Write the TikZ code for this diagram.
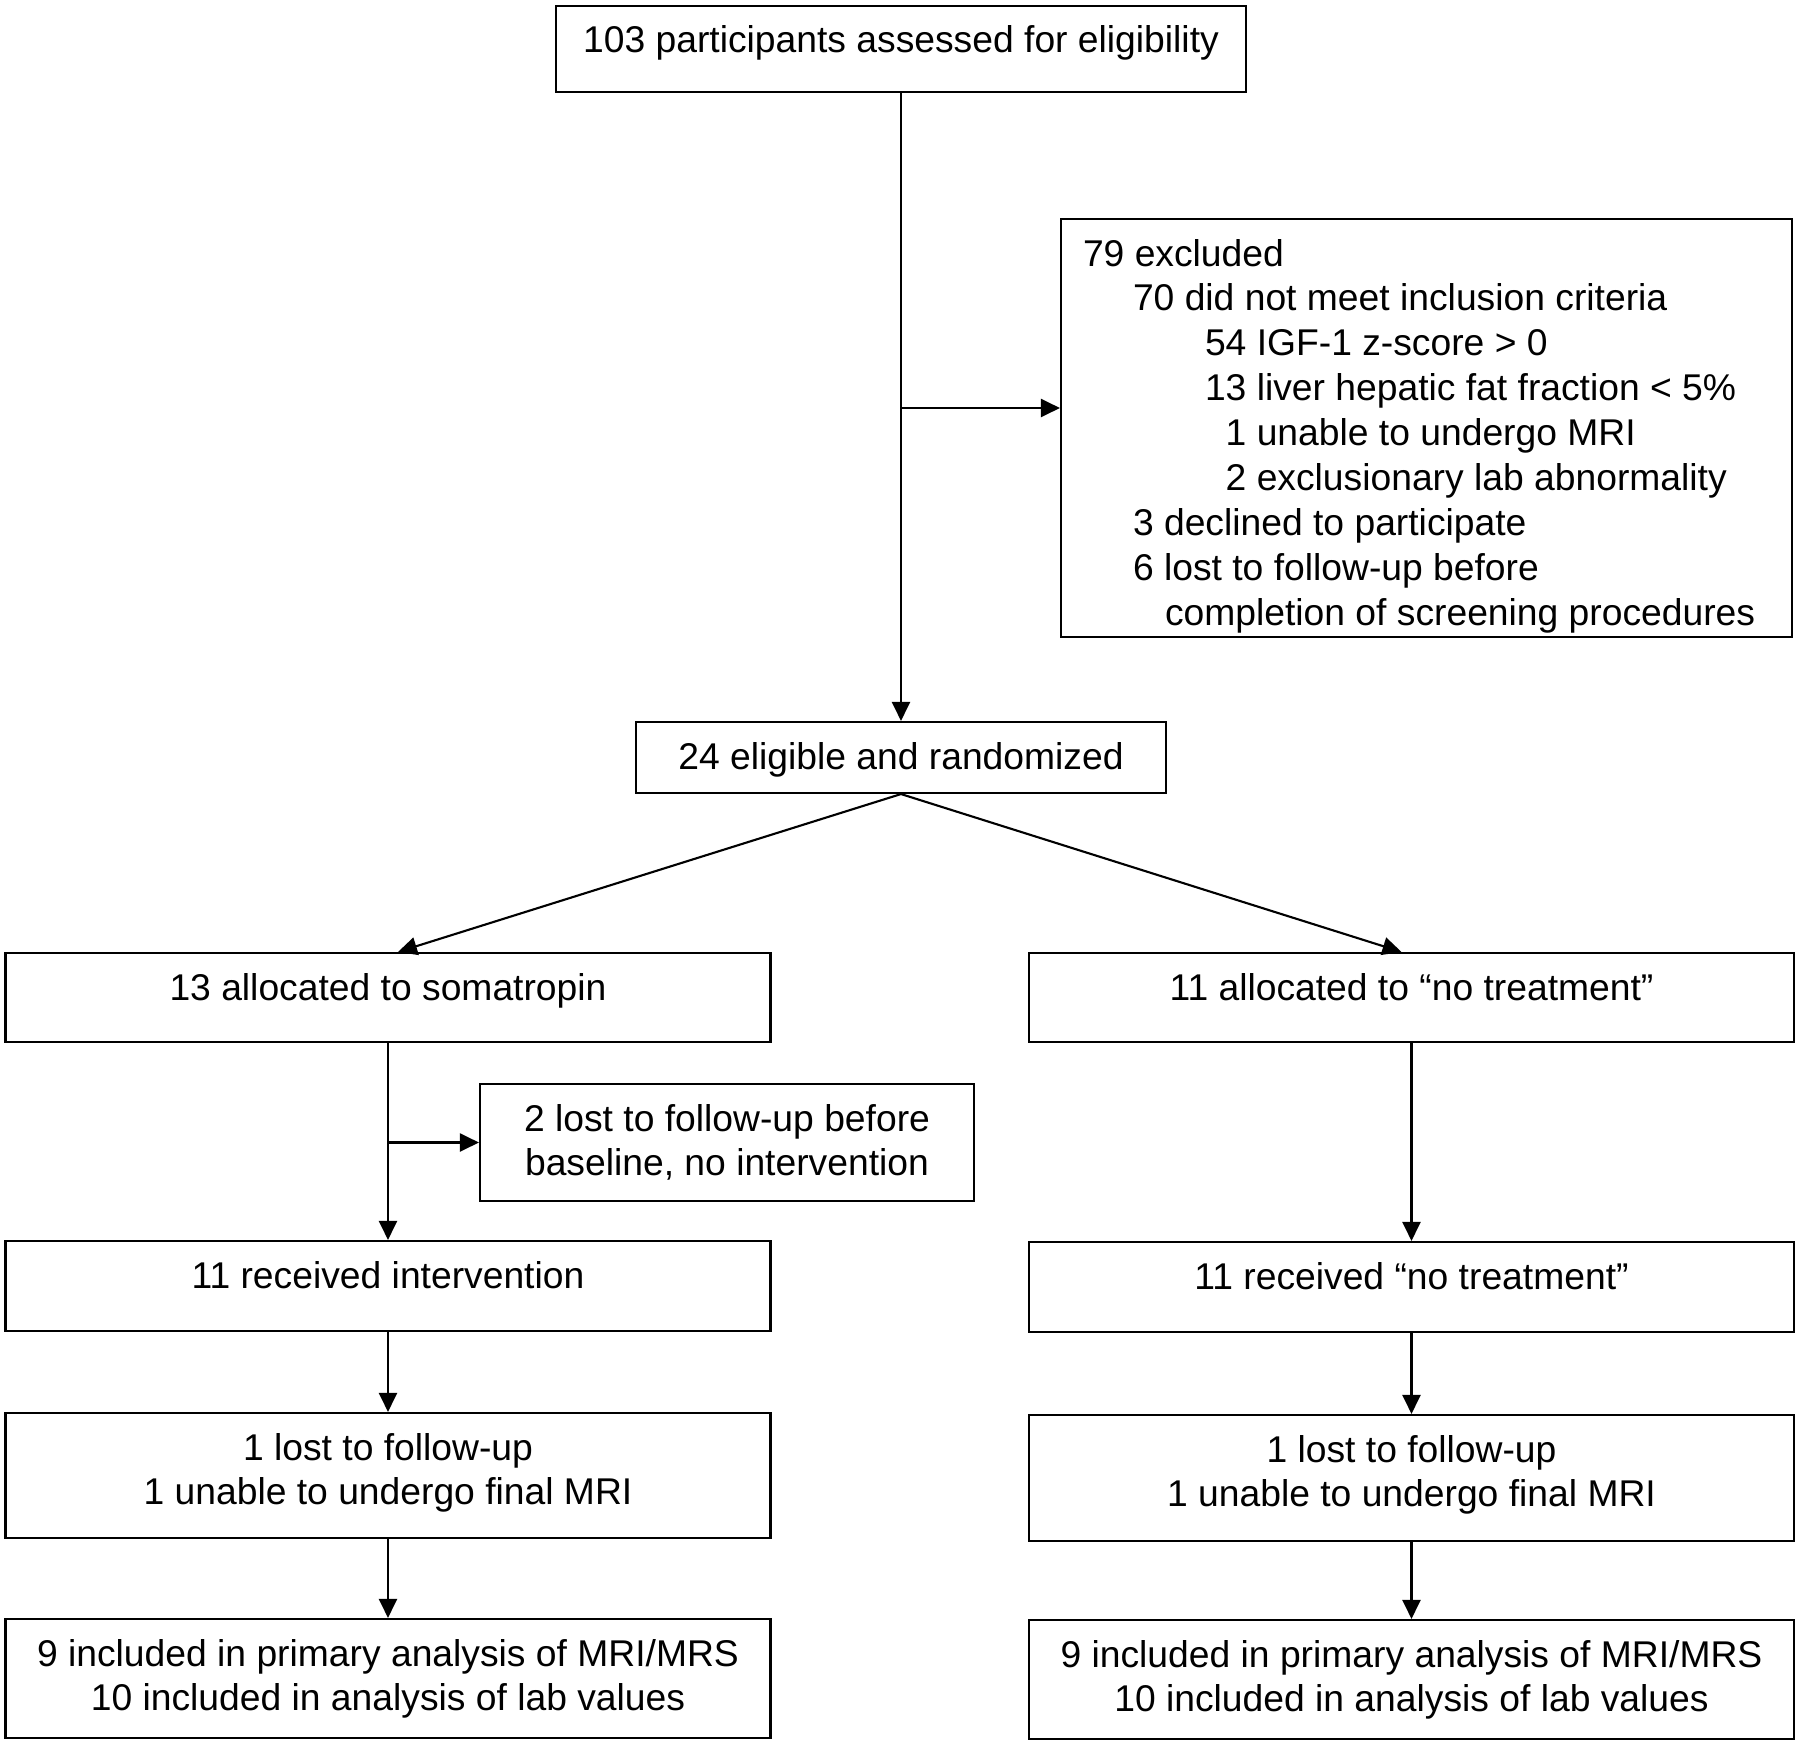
\documentclass[tikz,border=0pt]{standalone}
\usepackage{fontspec}
\setmainfont{Liberation Sans}
\usetikzlibrary{positioning,arrows.meta}

\begin{document}
\begin{tikzpicture}[line width=0.6pt]
        % flow of participants through the trial
        \tikzstyle{block} = [draw,rectangle,inner sep=0pt];
        \tikzstyle{txt} = [inner sep=0pt,align=center,font=\fontsize{10.6}{12.8}\selectfont];
        \tikzstyle{arr} = [-{Triangle[length=0.19cm,width=0.18cm]}];

        \useasboundingbox (0,0) rectangle (18,-17.46);

        \node[block,minimum width=6.9cm,minimum height=0.86cm] (assess) at (9.01,-0.49) {};
        \node[txt,below=0.2cm of assess.north] (assess_txt) {103 participants assessed for eligibility};

        \node[block,minimum width=7.31cm,minimum height=4.18cm] (excl) at (14.265,-4.28) {};
        \node[txt,align=left,below right=0.2cm and 0.22cm of excl.north west] (excl_txt) {79 excluded\\
            \hspace*{0.5cm}70 did not meet inclusion criteria\\
            \hspace*{1.22cm}54 IGF-1 z-score > 0\\
            \hspace*{1.22cm}13 liver hepatic fat fraction < 5\%\\
            \hspace*{1.22cm}\phantom{5}1 unable to undergo MRI\\
            \hspace*{1.22cm}\phantom{5}2 exclusionary lab abnormality\\
            \hspace*{0.5cm}3 declined to participate\\
            \hspace*{0.5cm}6 lost to follow-up before\\
            \hspace*{0.82cm}completion of screening procedures};

        \node[block,minimum width=5.3cm,minimum height=0.71cm] (rand) at (9.01,-7.575) {};
        \node[txt,below=0.2cm of rand.north] (rand_txt) {24 eligible and randomized};

        \node[block,minimum width=7.65cm,minimum height=0.89cm] (somat) at (3.88,-9.975) {};
        \node[txt,below=0.2cm of somat.north] (somat_txt) {13 allocated to somatropin};
        \node[block,minimum width=7.65cm,minimum height=0.89cm] (notreat) at (14.115,-9.975) {};
        \node[txt,below=0.2cm of notreat.north] (notreat_txt) {11 allocated to “no treatment”};

        \node[block,minimum width=4.94cm,minimum height=1.17cm] (lostbase) at (7.27,-11.425) {};
        \node[txt,below=0.2cm of lostbase.north] (lostbase_txt) {2 lost to follow-up before\\baseline, no intervention};

        \node[block,minimum width=7.65cm,minimum height=0.9cm] (recvint) at (3.88,-12.86) {};
        \node[txt,below=0.2cm of recvint.north] (recvint_txt) {11 received intervention};
        \node[block,minimum width=7.65cm,minimum height=0.9cm] (recvno) at (14.115,-12.87) {};
        \node[txt,below=0.2cm of recvno.north] (recvno_txt) {11 received “no treatment”};

        \node[block,minimum width=7.65cm,minimum height=1.25cm] (lost_left) at (3.88,-14.755) {};
        \node[txt,below=0.2cm of lost_left.north] (lost_left_txt) {1 lost to follow-up\\1 unable to undergo final MRI};
        \node[block,minimum width=7.65cm,minimum height=1.26cm] (lost_right) at (14.115,-14.78) {};
        \node[txt,below=0.2cm of lost_right.north] (lost_right_txt) {1 lost to follow-up\\1 unable to undergo final MRI};

        \node[block,minimum width=7.65cm,minimum height=1.19cm] (anal_left) at (3.88,-16.785) {};
        \node[txt,below=0.2cm of anal_left.north] (anal_left_txt) {9 included in primary analysis of MRI/MRS\\10 included in analysis of lab values};
        \node[block,minimum width=7.65cm,minimum height=1.19cm] (anal_right) at (14.115,-16.795) {};
        \node[txt,below=0.2cm of anal_right.north] (anal_right_txt) {9 included in primary analysis of MRI/MRS\\10 included in analysis of lab values};

        \coordinate (split_excl) at (9.01,-4.08);
        \coordinate (split_lost) at (3.88,-11.425);

        \draw[arr] (assess.south) -- (rand.north);
        \draw[arr] (split_excl) -- (split_excl -| excl.west);
        \draw[arr] (rand.south) -- ([xshift=0.1cm]somat.north);
        \draw[arr] (rand.south) -- ([xshift=-0.1cm]notreat.north);

        \draw[arr] (somat.south) -- (recvint.north);
        \draw[arr] (split_lost) -- (lostbase.west);
        \draw[arr] (recvint.south) -- (lost_left.north);
        \draw[arr] (lost_left.south) -- (anal_left.north);

        \draw[arr] (notreat.south) -- (recvno.north);
        \draw[arr] (recvno.south) -- (lost_right.north);
        \draw[arr] (lost_right.south) -- (anal_right.north);

    \end{tikzpicture}
\end{document}
